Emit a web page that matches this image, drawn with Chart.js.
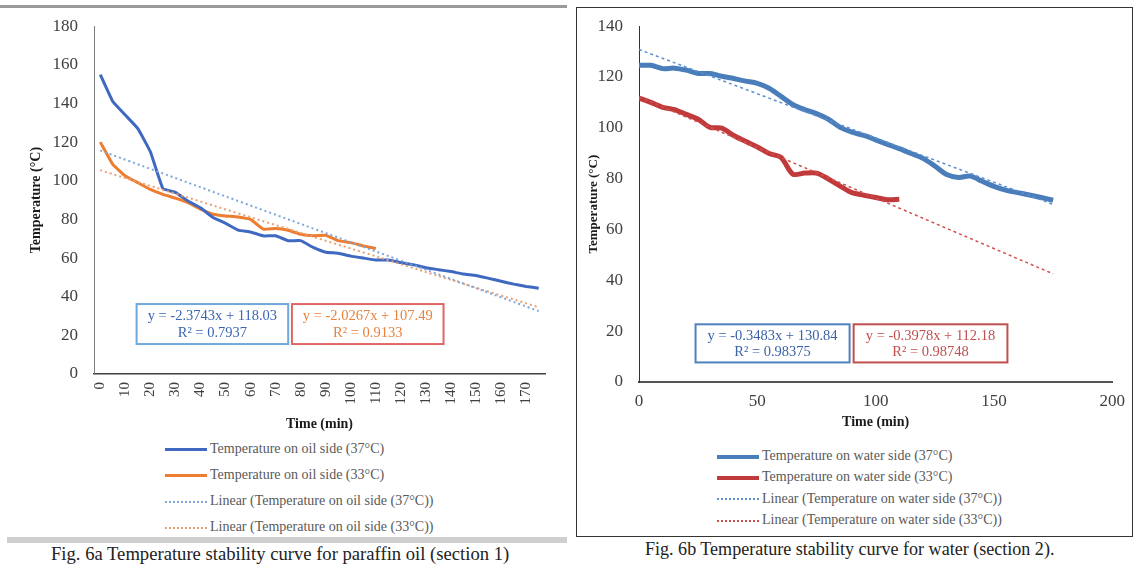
<!DOCTYPE html>
<html>
<head>
<meta charset="utf-8">
<script src="https://cdn.jsdelivr.net/npm/chart.js@4.4.1/dist/chart.umd.min.js"></script>
<style>
  body { margin: 0; background: #fff; width: 1138px; height: 571px; overflow: hidden; position: relative;
         font-family: "Liberation Serif", "Times New Roman", serif; }
  .abs { position: absolute; }
  #topRule { left: 0; top: 5px; width: 567px; height: 3px; background: #9a9a9a; }
  #leftBar { left: 7px; top: 537px; width: 560px; height: 6px; background: #cfcfcf; }
  #rightBox { left: 576px; top: 7px; width: 555px; height: 528px; border: 1.5px solid #333; }
  #oilWrap { left: 0; top: 0; width: 566px; height: 437px; }
  #waterWrap { left: 580px; top: 0; width: 554px; height: 435px; }
  .legend { position: absolute; font-size: 14px; color: #595959; }
  .legend .item { position: absolute; white-space: nowrap; height: 16px; line-height: 16px; }
  .legend .sw { display: inline-block; vertical-align: middle; width: 42px; margin-right: 3px; }
  .caption { position: absolute; white-space: nowrap; font-size: 19px; color: #222; transform-origin: left center; }
</style>
</head>
<body>
<div class="abs" id="topRule"></div>
<div class="abs" id="leftBar"></div>
<div class="abs" id="rightBox"></div>

<div class="abs" id="oilWrap"><canvas id="oilChart"></canvas></div>
<div class="abs" id="waterWrap"><canvas id="waterChart"></canvas></div>

<div class="legend" id="oilLegend" style="left:165px; top:441px;"></div>
<div class="legend" id="waterLegend" style="left:717px; top:448px;"></div>

<div class="caption" style="left:51px; top:543px; transform:scaleX(0.98);">Fig. 6a Temperature stability curve for paraffin oil (section 1)</div>
<div class="caption" style="left:645px; top:538px; transform:scaleX(0.95);">Fig. 6b Temperature stability curve for water (section 2).</div>

<script>
// time in minutes, every 5 min (labels shown every 10 on the oil chart)
const timeMin = [0, 5, 10, 15, 20, 25, 30, 35, 40, 45, 50, 55, 60, 65, 70, 75, 80, 85,
  90, 95, 100, 105, 110, 115, 120, 125, 130, 135, 140, 145, 150, 155, 160, 165, 170, 175];

// Fig 6a - paraffin oil
const oil37 = [155, 141, 134, 127, 115, 96, 94, 89.5, 86, 81, 78, 74.5, 73.5, 71.5, 71.5, 69, 69, 65.5,
  63, 62.5, 61, 60, 59, 59, 57.7, 56.5, 55, 54, 53, 51.7, 51, 49.5, 48, 46.5, 45.3, 44.4];
const oil33 = [120, 108.5, 102.5, 99, 95.5, 93, 91, 88.7, 85.3, 82.7, 81.8, 81.3, 80, 75, 75.3, 74.4,
  72.3, 71.5, 71.8, 69, 68, 66.3, 65];
const trendTimes = [0, 175];
const oilTrend37 = [115.66, 32.56];
const oilTrend33 = [105.46, 34.53];

// Fig 6b - water
const water37 = [124.6, 124.6, 123.3, 123.5, 122.7, 121.4, 121.4, 120.3, 119.4, 118.4, 117.5, 115.6,
  112.4, 109.2, 107.2, 105.6, 103.4, 100.2, 98.3, 97, 95.3, 93.5, 91.8, 89.9, 88, 85, 81.6, 80.5, 81,
  79, 77, 75.5, 74.5, 73.6, 72.6, 71.5];
const water33 = [111.7, 110, 108.1, 107.2, 105.3, 103.4, 100.2, 99.9, 97, 94.7, 92.5, 89.9, 88.4, 81.8,
  82.2, 82.2, 79.9, 77.1, 74.5, 73.5, 72.6, 71.7, 71.9];
const waterTrend37 = [130.84, 69.89];
const waterTrend33 = [112.18, 42.56];

const serif = '"Liberation Serif", "Times New Roman", serif';

// equation boxes drawn in data units of each chart
const eqBoxes = {
  id: 'eqBoxes',
  afterDatasetsDraw(chart, args, opts) {
    const { ctx, scales: { x, y } } = chart;
    (opts.boxes || []).forEach((b) => {
      const left = x.getPixelForValue(b.x0);
      const right = x.getPixelForValue(b.x1);
      const top = y.getPixelForValue(b.y1);
      const bottom = y.getPixelForValue(b.y0);
      const h = bottom - top;
      ctx.save();
      ctx.strokeStyle = b.border;
      ctx.lineWidth = 2;
      ctx.strokeRect(left, top, right - left, h);
      ctx.fillStyle = b.color;
      ctx.font = '14.5px ' + serif;
      ctx.textAlign = 'center';
      ctx.textBaseline = 'middle';
      ctx.fillText(b.lines[0], (left + right) / 2, top + h * 0.3);
      ctx.fillText(b.lines[1], (left + right) / 2, top + h * 0.72);
      ctx.restore();
    });
  }
};

function buildLegend(chart, elId, gap, solidWidth) {
  const el = document.getElementById(elId);
  chart.data.datasets.forEach((ds, i) => {
    const item = document.createElement('div');
    item.className = 'item';
    item.style.top = (i * gap) + 'px';
    const sw = document.createElement('span');
    sw.className = 'sw';
    if (ds.borderDash && ds.borderDash.length) {
      sw.style.borderTop = '2px dotted ' + ds.borderColor;
    } else {
      sw.style.borderTop = solidWidth + 'px solid ' + ds.borderColor;
    }
    item.appendChild(sw);
    item.appendChild(document.createTextNode(ds.label));
    el.appendChild(item);
  });
}

function initOilChart() {
  const ctx = document.getElementById('oilChart').getContext('2d');
  const chart = new Chart(ctx, {
    type: 'line',
    data: {
      labels: timeMin,
      datasets: [
        { label: 'Temperature on oil side (37°C)', data: oil37, borderColor: '#3F69C0', borderWidth: 3, order: 2 },
        { label: 'Temperature on oil side (33°C)', data: oil33, borderColor: '#ED7D31', borderWidth: 3, order: 3 },
        {
          label: 'Linear (Temperature on oil side (37°C))',
          data: trendTimes.map((t, i) => ({ x: t, y: oilTrend37[i] })),
          borderColor: '#7FA7DC', borderWidth: 2, borderDash: [2, 3], spanGaps: true, order: 0
        },
        {
          label: 'Linear (Temperature on oil side (33°C))',
          data: trendTimes.map((t, i) => ({ x: t, y: oilTrend33[i] })),
          borderColor: '#E8A072', borderWidth: 2, borderDash: [2, 3], spanGaps: true, order: 1
        }
      ]
    },
    options: {
      responsive: true,
      maintainAspectRatio: false,
      animation: false,
      elements: { point: { radius: 0 }, line: { tension: 0.1 } },
      layout: { padding: { left: 24, top: 25, right: 21, bottom: 0 } },
      plugins: {
        legend: { display: false },
        tooltip: { enabled: false },
        eqBoxes: {
          boxes: [
            { x0: 2.9, x1: 15.0, y0: 15.5, y1: 36.2, border: '#6FA8DC', color: '#3C64B4',
              lines: ['y = -2.3743x + 118.03', 'R² = 0.7937'] },
            { x0: 15.3, x1: 27.4, y0: 15.5, y1: 36.2, border: '#E06666', color: '#E8823E',
              lines: ['y = -2.0267x + 107.49', 'R² = 0.9133'] }
          ]
        }
      },
      scales: {
        x: {
          offset: true,
          grid: { display: false, drawTicks: false },
          border: { display: true, color: '#404040', width: 1.5 },
          ticks: {
            autoSkip: false, minRotation: 90, maxRotation: 90, padding: 8,
            color: '#404040', font: { family: serif, size: 15 },
            callback: (v) => (timeMin[v] % 10 === 0 ? timeMin[v] : '')
          },
          title: { display: true, text: 'Time (min)', color: '#1a1a1a', font: { family: serif, size: 14, weight: 'bold' } },
          afterFit: (s) => { s.height = 63; }
        },
        y: {
          min: 0, max: 180,
          grid: { display: false, drawTicks: false },
          border: { display: true, color: '#808080', width: 1 },
          ticks: { stepSize: 20, padding: 16, color: '#404040', font: { family: serif, size: 17 } },
          title: { display: true, text: 'Temperature (°C)', color: '#1a1a1a', font: { family: serif, size: 14, weight: 'bold' } },
          afterFit: (s) => { s.width = 70; }
        }
      }
    },
    plugins: [eqBoxes]
  });
  buildLegend(chart, 'oilLegend', 26, 3);
}

function initWaterChart() {
  const ctx = document.getElementById('waterChart').getContext('2d');
  const pts = (ys) => ys.map((v, i) => ({ x: timeMin[i], y: v }));
  const chart = new Chart(ctx, {
    type: 'line',
    data: {
      datasets: [
        { label: 'Temperature on water side (37°C)', data: pts(water37), borderColor: '#4A7EBB', borderWidth: 5, tension: 0.3, order: 2 },
        { label: 'Temperature on water side (33°C)', data: pts(water33), borderColor: '#C0393B', borderWidth: 5, tension: 0.3, order: 3 },
        {
          label: 'Linear (Temperature on water side (37°C))',
          data: trendTimes.map((t, i) => ({ x: t, y: waterTrend37[i] })),
          borderColor: '#5B8FD0', borderWidth: 1.5, borderDash: [3, 3], order: 0
        },
        {
          label: 'Linear (Temperature on water side (33°C))',
          data: trendTimes.map((t, i) => ({ x: t, y: waterTrend33[i] })),
          borderColor: '#D05050', borderWidth: 1.5, borderDash: [3, 3], order: 1
        }
      ]
    },
    options: {
      responsive: true,
      maintainAspectRatio: false,
      animation: false,
      elements: { point: { radius: 0 } },
      layout: { padding: { left: 2, top: 18, right: 14, bottom: 0 } },
      plugins: {
        legend: { display: false },
        tooltip: { enabled: false },
        eqBoxes: {
          boxes: [
            { x0: 23.9, x1: 89.0, y0: 7.7, y1: 22.7, border: '#4F81BD', color: '#3B62A8',
              lines: ['y = -0.3483x + 130.84', 'R² = 0.98375'] },
            { x0: 90.7, x1: 155.7, y0: 7.7, y1: 22.7, border: '#C0504D', color: '#C0504D',
              lines: ['y = -0.3978x + 112.18', 'R² = 0.98748'] }
          ]
        }
      },
      scales: {
        x: {
          type: 'linear', min: 0, max: 200,
          grid: { display: false, drawTicks: false },
          border: { display: true, color: '#555', width: 2 },
          ticks: { stepSize: 50, padding: 9, color: '#404040', font: { family: serif, size: 17 } },
          title: { display: true, text: 'Time (min)', color: '#1a1a1a', font: { family: serif, size: 14, weight: 'bold' } },
          afterFit: (s) => { s.height = 53; }
        },
        y: {
          min: 0, max: 140,
          grid: { display: false, drawTicks: false },
          border: { display: true, color: '#333', width: 1 },
          ticks: { stepSize: 20, padding: 16, color: '#404040', font: { family: serif, size: 17 } },
          title: { display: true, text: 'Temperature (°C)', color: '#1a1a1a', font: { family: serif, size: 13, weight: 'bold' } },
          afterFit: (s) => { s.width = 57; }
        }
      }
    },
    plugins: [eqBoxes]
  });
  buildLegend(chart, 'waterLegend', 21.3, 4);
}

window.addEventListener('DOMContentLoaded', () => {
  initOilChart();
  initWaterChart();
});
</script>
</body>
</html>
